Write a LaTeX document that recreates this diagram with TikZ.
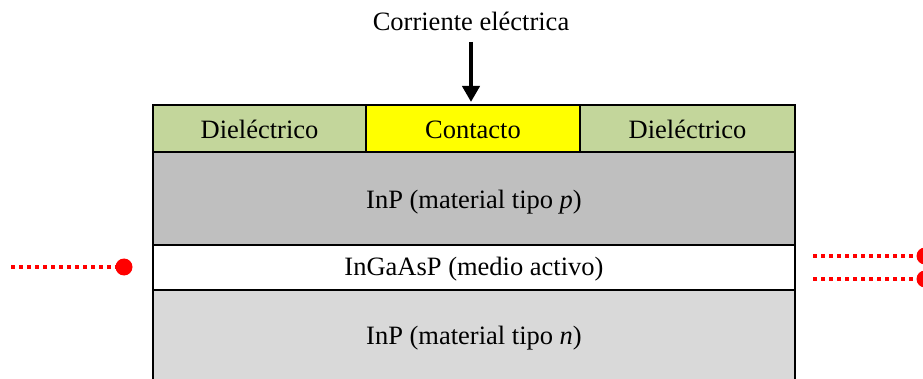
\documentclass[tikz,border=0pt]{standalone}
\usepackage{fontspec}
\setmainfont{Liberation Serif}
\usetikzlibrary{arrows.meta}
\definecolor{diel}{HTML}{C3D69B}
\definecolor{cont}{HTML}{FFFF00}
\definecolor{pgray}{HTML}{BFBFBF}
\definecolor{ngray}{HTML}{D9D9D9}
\definecolor{laser}{HTML}{FF0000}
\begin{document}
\begin{tikzpicture}[x=1pt,y=-1pt,
  layer/.style={draw=black,line width=2.6pt,anchor=north west,inner sep=0pt,outer sep=0pt,
    font=\fontsize{26.5}{30}\selectfont},
  lbl/.style={font=\fontsize{26.5}{30}\selectfont,inner sep=0pt},
  beam/.style={draw=laser,line width=4pt,dash pattern=on 4pt off 4pt},
  spot/.style={circle,fill=laser,minimum size=17pt,inner sep=0pt}]
\useasboundingbox (0,0) rectangle (923,379);
\clip (0,0) rectangle (923,379);
% layers
\node[layer,fill=ngray,minimum width=642pt,minimum height=120pt] (nlay) at (153,290) {};
\node[layer,fill=white,minimum width=642pt,minimum height=45pt] (act) at (153,245) {};
\node[layer,fill=pgray,minimum width=642pt,minimum height=93pt] (play) at (153,152) {};
\node[layer,fill=diel,minimum width=213pt,minimum height=47pt] (d1) at (153,105) {};
\node[layer,fill=cont,minimum width=214pt,minimum height=47pt] (ct) at (366,105) {};
\node[layer,fill=diel,minimum width=215pt,minimum height=47pt] (d2) at (580,105) {};
% labels
\node[lbl] at ([yshift=-1pt]d1.center) {Dieléctrico};
\node[lbl] at ([yshift=-1pt]ct.center) {Contacto};
\node[lbl] at ([yshift=-1pt]d2.center) {Dieléctrico};
\node[lbl] at ([yshift=-4pt]play.center) {InP (material tipo \textit{p})};
\node[lbl] at ([yshift=-2pt]act.center) {InGaAsP (medio activo)};
\node[lbl] at (474,338) {InP (material tipo \textit{n})};
% current
\node[lbl,anchor=base] (cur) at (471,31) {Corriente eléctrica};
\coordinate (ctop) at (471,42);
\draw[line width=4pt,-{Triangle[width=17pt,length=16pt]}] (ctop) -- (471,102);
% beams
\node[spot] (s1) at (124,267) {};
\coordinate (b1) at (11,267);
\draw[beam] (b1) -- (s1.west);
\node[spot] (s2) at (925,256) {};
\coordinate (b2) at (813,256);
\draw[beam] (b2) -- (s2.west);
\node[spot] (s3) at (925,279) {};
\coordinate (b3) at (813,279);
\draw[beam] (b3) -- (s3.west);
\end{tikzpicture}
\end{document}
